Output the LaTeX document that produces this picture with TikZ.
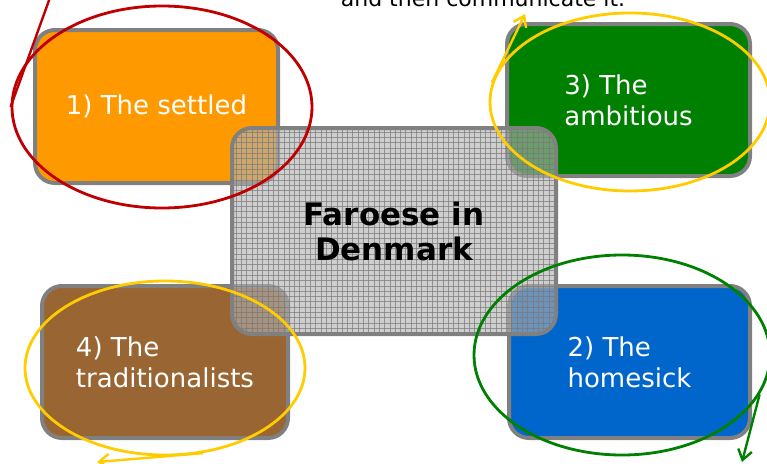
\documentclass[tikz,border=0pt]{standalone}
\usepackage{fontspec}
\setmainfont{DejaVu Sans}
\usetikzlibrary{shapes.geometric,arrows.meta}
\definecolor{cOrange}{HTML}{FF9900}
\definecolor{cGreen}{HTML}{008000}
\definecolor{cBrown}{HTML}{996633}
\definecolor{cBlue}{HTML}{0066CC}
\definecolor{cBorder}{HTML}{808080}
\definecolor{cRed}{HTML}{C00000}
\definecolor{cYellow}{HTML}{FFCC00}
\definecolor{cLine}{HTML}{008000}
\tikzset{
  groupbox/.style={rectangle, rounded corners=20pt, draw=cBorder, line width=4pt,
    text=white, align=left, inner sep=0pt,
    font=\fontsize{26}{31}\selectfont},
  mark ring/.style={ellipse, draw, line width=2.8pt, inner sep=0pt},
  pointer/.style={line width=2.4pt, -{Straight Barb[length=10pt,width=14pt,line width=2.4pt]}},
  gridline/.style={gray!95!black, line width=1pt, opacity=0.7},
}
\begin{document}
\begin{tikzpicture}[x=1pt,y=-1pt]
\useasboundingbox (0,0) rectangle (767,463);
\node[anchor=base] (top) at (483,6) {\fontsize{22}{31}\selectfont and then communicate it.};
\node[groupbox, fill=cOrange, minimum width=243pt, minimum height=153pt] (b1) at (156.5,106.5) {1) The settled};
\node[groupbox, fill=cGreen, minimum width=243pt, minimum height=152pt] (b3) at (628.5,100) {3) The\\ambitious};
\node[groupbox, fill=cBrown, minimum width=246pt, minimum height=152pt] (b4) at (165,362) {4) The\\traditionalists};
\node[groupbox, fill=cBlue, minimum width=241pt, minimum height=152pt] (b2) at (629.5,362) {2) The\\homesick};
% centre box: translucent grey with a fine grid
\node[rectangle, rounded corners=20pt, outer sep=0pt, inner sep=0pt,
  fill=gray!62, fill opacity=0.62,
  minimum width=324pt, minimum height=206pt] (c) at (394,231) {};
\begin{scope}
  \clip[rounded corners=20pt] (c.north west) rectangle (c.south east);
  \foreach \i in {0,...,62} {
    \draw[gridline] ({231+5.3*\i},127) -- ({231+5.3*\i},335);
  }
  \foreach \j in {0,...,40} {
    \draw[gridline] (231,{127+5.3*\j}) -- (558,{127+5.3*\j});
  }
\end{scope}
\draw[cBorder, line width=4pt, rounded corners=20pt] (c.north west) rectangle (c.south east);
\node[align=center, font=\bfseries\fontsize{31}{35}\selectfont] (ct) at (c.center) {Faroese in\\Denmark};
\node[mark ring, draw=cRed, minimum width=300pt, minimum height=202pt] (e1) at (162,107) {};
\node[mark ring, draw=cYellow, minimum width=280pt, minimum height=178pt] (e3) at (630,102) {};
\node[mark ring, draw=cYellow, minimum width=280pt, minimum height=174pt] (e4) at (165,368) {};
\node[mark ring, draw=cLine, minimum width=296pt, minimum height=200pt] (e2) at (622,355) {};
\coordinate (t1) at (52,-8);
\coordinate (t3) at (525,14);
\coordinate (t4) at (97,462);
\coordinate (t2) at (742,462);
\draw[cRed, line width=2.4pt] (e1.180) -- (t1);
\draw[pointer, cYellow] (e3.172) -- (t3);
\draw[pointer, cYellow] (e4.-66) -- (t4);
\draw[pointer, cLine] (e2.-16) -- (t2);
\end{tikzpicture}
\end{document}
